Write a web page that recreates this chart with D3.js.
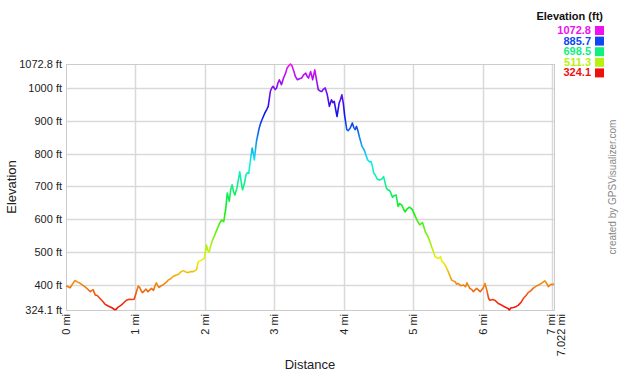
<!DOCTYPE html>
<html>
<head>
<meta charset="utf-8">
<script src="https://cdn.jsdelivr.net/npm/d3@7"></script>
<style>
  body { margin: 0; background: #fff; }
  svg { display: block; font-family: "Liberation Sans", Arial, sans-serif; }
</style>
</head>
<body>
<div class="chart"></div>
<script>
// distance along track (mi) and elevation (ft)
const distances = [
  0.00, 0.03, 0.06, 0.10, 0.13, 0.17, 0.20, 0.24, 0.27, 0.31, 0.35, 0.39, 0.42, 0.45, 0.49,
  0.53, 0.56, 0.60, 0.63, 0.66, 0.70, 0.72, 0.75, 0.79, 0.82, 0.87, 0.91, 0.95, 0.98, 1.00,
  1.02, 1.04, 1.06, 1.08, 1.10, 1.13, 1.15, 1.18, 1.21, 1.23, 1.26, 1.28, 1.30, 1.32, 1.34,
  1.37, 1.40, 1.44, 1.47, 1.51, 1.54, 1.58, 1.62, 1.65, 1.69, 1.72, 1.76, 1.80, 1.83, 1.86,
  1.88, 1.90, 1.93, 1.95, 1.99, 2.02, 2.04, 2.06, 2.08, 2.10, 2.14, 2.17, 2.21, 2.24, 2.27,
  2.30, 2.32, 2.35, 2.37, 2.39, 2.41, 2.43, 2.46, 2.48, 2.50, 2.52, 2.54, 2.57, 2.59, 2.61,
  2.63, 2.66, 2.68, 2.70, 2.71, 2.74, 2.78, 2.80, 2.82, 2.86, 2.89, 2.91, 2.94, 2.96, 2.98,
  3.01, 3.03, 3.05, 3.07, 3.10, 3.13, 3.16, 3.18, 3.20, 3.23, 3.25, 3.28, 3.30, 3.33, 3.36,
  3.39, 3.42, 3.45, 3.47, 3.49, 3.52, 3.55, 3.58, 3.60, 3.63, 3.66, 3.68, 3.70, 3.73, 3.76,
  3.79, 3.82, 3.84, 3.86, 3.88, 3.90, 3.93, 3.95, 3.97, 3.99, 4.01, 4.04, 4.06, 4.09, 4.12,
  4.14, 4.16, 4.18, 4.20, 4.22, 4.26, 4.28, 4.30, 4.34, 4.37, 4.39, 4.41, 4.43, 4.45, 4.48,
  4.51, 4.54, 4.57, 4.61, 4.63, 4.66, 4.70, 4.72, 4.75, 4.78, 4.80, 4.83, 4.86, 4.88, 4.91,
  4.94, 4.97, 4.99, 5.02, 5.05, 5.07, 5.09, 5.13, 5.17, 5.19, 5.21, 5.24, 5.26, 5.29, 5.31,
  5.34, 5.36, 5.39, 5.41, 5.44, 5.47, 5.50, 5.53, 5.55, 5.58, 5.60, 5.62, 5.64, 5.68, 5.72,
  5.75, 5.77, 5.79, 5.81, 5.84, 5.86, 5.89, 5.91, 5.94, 5.96, 5.98, 6.00, 6.03, 6.06, 6.08,
  6.10, 6.14, 6.17, 6.20, 6.22, 6.26, 6.29, 6.33, 6.36, 6.38, 6.40, 6.44, 6.48, 6.51, 6.55,
  6.58, 6.62, 6.65, 6.69, 6.72, 6.76, 6.80, 6.84, 6.89, 6.92, 6.94, 6.96, 6.98, 7.022
];
const elevations = [
  398, 395, 392, 405, 414, 409, 406, 400, 395, 388, 380, 386, 370, 368, 359,
  350, 342, 337, 334, 331, 325, 326, 333, 338, 344, 354, 357, 356, 357, 370,
  384, 397, 393, 383, 377, 383, 388, 380, 386, 390, 384, 397, 407, 398, 393,
  398, 401, 408, 415, 420, 426, 430, 433, 440, 444, 440, 438, 441, 441, 444,
  448, 470, 474, 476, 481, 522, 505, 500, 518, 532, 552, 568, 588, 598, 593,
  634, 680, 655, 690, 705, 685, 674, 695, 720, 745, 715, 690, 712, 735, 742,
  740, 790, 817, 795, 781, 837, 878, 892, 903, 923, 935, 944, 989, 1000, 1005,
  995, 1000, 1015, 1025, 1010, 1030, 1045, 1060, 1066, 1072.8, 1068, 1050, 1035, 1025, 1028,
  1030, 1040, 1045, 1035, 1030, 1050, 1025, 1055, 1030, 995, 990, 989, 995, 1000, 979,
  944, 964, 955, 959, 935, 913, 954, 965, 979, 954, 915, 873, 870, 878, 893,
  880, 873, 883, 870, 852, 822, 815, 806, 781, 775, 776, 760, 740, 735, 722,
  720, 722, 730, 695, 690, 687, 667, 672, 674, 639, 648, 644, 630, 623, 632,
  637, 633, 627, 612, 598, 590, 583, 590, 562, 555, 547, 530, 517, 500, 486,
  483, 481, 486, 472, 466, 455, 441, 425, 415, 412, 410, 403, 405, 398, 400,
  395, 407, 398, 390, 386, 380, 386, 390, 384, 380, 385, 390, 405, 380, 360,
  354, 356, 354, 348, 344, 340, 336, 332, 329, 324.1, 330, 332, 335, 339, 348,
  359, 368, 377, 383, 390, 396, 400, 405, 413, 404, 395, 399, 402, 402
];

const yTicks = [324.1, 400, 500, 600, 700, 800, 900, 1000, 1072.8];
const xTicks = [0, 1, 2, 3, 4, 5, 6, 7, 7.022];
const legendValues = [1072.8, 885.7, 698.5, 511.3, 324.1];

const width = 620;
const height = 375;
const plot = { left: 66, right: 554, top: 64, bottom: 310 };

const svg = d3.select(".chart").append("svg")
  .attr("width", width)
  .attr("height", height);

const minElev = d3.min(elevations);
const maxElev = d3.max(elevations);

const x = d3.scaleLinear().domain([0, d3.max(distances)]).range([plot.left, plot.right]);
const y = d3.scaleLinear().domain([minElev, maxElev]).range([plot.bottom, plot.top]);

// red -> yellow -> green -> blue -> magenta by elevation
const hue = d3.scaleLinear().domain([minElev, maxElev]).range([0, 300]);
const colorOf = (v) => d3.hsl(hue(v), 0.88, 0.5).formatHex();

const points = distances.map((d, i) => ({ d, e: elevations[i] }));

// gridlines
svg.append("g")
  .selectAll("line")
  .data(yTicks.filter((t) => t > minElev && t < maxElev))
  .enter()
  .append("line")
  .attr("x1", plot.left)
  .attr("x2", plot.right)
  .attr("y1", (t) => Math.round(y(t)) + 0.5)
  .attr("y2", (t) => Math.round(y(t)) + 0.5)
  .attr("stroke", "#d9d9d9")
  .attr("stroke-width", 1.5);

svg.append("g")
  .selectAll("line")
  .data(xTicks.filter((t) => t > 0 && t < 7.022))
  .enter()
  .append("line")
  .attr("y1", plot.top)
  .attr("y2", plot.bottom)
  .attr("x1", (t) => Math.round(x(t)) + 0.5)
  .attr("x2", (t) => Math.round(x(t)) + 0.5)
  .attr("stroke", "#d9d9d9")
  .attr("stroke-width", 1.5);

svg.append("rect")
  .attr("x", plot.left + 0.5)
  .attr("y", plot.top + 0.5)
  .attr("width", plot.right - plot.left)
  .attr("height", plot.bottom - plot.top)
  .attr("fill", "none")
  .attr("stroke", "#cccccc");

// vertical gradient for the profile line
const grad = svg.append("defs").append("linearGradient")
  .attr("id", "elev-grad")
  .attr("gradientUnits", "userSpaceOnUse")
  .attr("x1", 0).attr("x2", 0)
  .attr("y1", y(minElev)).attr("y2", y(maxElev));

grad.selectAll("stop")
  .data(d3.range(0, 1.0001, 0.05))
  .enter()
  .append("stop")
  .attr("offset", (t) => t)
  .attr("stop-color", (t) => colorOf(minElev + t * (maxElev - minElev)));

const line = d3.line()
  .x((p) => x(p.d))
  .y((p) => y(p.e));

svg.append("path")
  .datum(points)
  .attr("d", line)
  .attr("fill", "none")
  .attr("stroke", "url(#elev-grad)")
  .attr("stroke-width", 1.6)
  .attr("stroke-linejoin", "round");

// y tick labels
svg.append("g")
  .selectAll("text")
  .data(yTicks)
  .enter()
  .append("text")
  .attr("x", plot.left - 4)
  .attr("y", (t) => y(t) + 4)
  .attr("text-anchor", "end")
  .attr("font-size", 11)
  .attr("fill", "#222")
  .text((t) => `${t} ft`);

// x tick labels, rotated
const xLabelPos = (t) => (t === 7 ? x(t) - 1 : t === 7.022 ? x(t) + 7 : x(t));
svg.append("g")
  .selectAll("text")
  .data(xTicks)
  .enter()
  .append("text")
  .attr("transform", (t) => `translate(${xLabelPos(t) + 4},${plot.bottom + 4}) rotate(-90)`)
  .attr("text-anchor", "end")
  .attr("font-size", 11)
  .attr("fill", "#222")
  .text((t) => `${t} mi`);

// axis titles
svg.append("text")
  .attr("transform", `translate(16,${(plot.top + plot.bottom) / 2}) rotate(-90)`)
  .attr("text-anchor", "middle")
  .attr("font-size", 13)
  .attr("fill", "#222")
  .text("Elevation");

svg.append("text")
  .attr("x", (plot.left + plot.right) / 2)
  .attr("y", 369)
  .attr("text-anchor", "middle")
  .attr("font-size", 13)
  .attr("fill", "#222")
  .text("Distance");

svg.append("text")
  .attr("transform", `translate(616,187) rotate(-90)`)
  .attr("text-anchor", "middle")
  .attr("font-size", 10)
  .attr("fill", "#888")
  .text("created by GPSVisualizer.com");

// legend
svg.append("text")
  .attr("x", 603)
  .attr("y", 20)
  .attr("text-anchor", "end")
  .attr("font-size", 11)
  .attr("font-weight", "bold")
  .attr("fill", "#111")
  .text("Elevation (ft)");

const legend = svg.append("g")
  .selectAll("g")
  .data(legendValues)
  .enter()
  .append("g")
  .attr("transform", (v, i) => `translate(0,${30 + i * 10.6})`);

legend.append("text")
  .attr("x", 591)
  .attr("y", 4)
  .attr("text-anchor", "end")
  .attr("font-size", 11)
  .attr("font-weight", "bold")
  .attr("fill", (v) => colorOf(v))
  .text((v) => v);

legend.append("rect")
  .attr("x", 595)
  .attr("y", -4)
  .attr("width", 9)
  .attr("height", 9)
  .attr("fill", (v) => colorOf(v));
</script>
</body>
</html>
